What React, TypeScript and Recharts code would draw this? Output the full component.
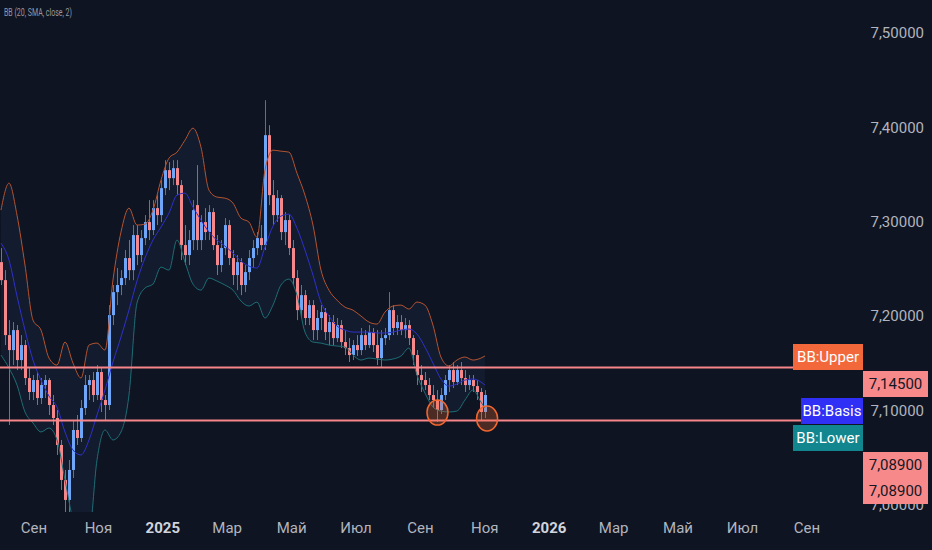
import { ComposedChart, Bar, Line, Area, XAxis, YAxis, ReferenceLine, ReferenceDot } from "recharts";

// USD/CNH-style daily-ish bars with Bollinger Bands (20, SMA, close, 2)
const BG = "#0f1422";
const UP = "#6fa6f7";
const DOWN = "#f5888a";
const LEVEL = "#f7858a";

// time axis is in months, 0 = Aug 2024
const monthTicks = [1, 3, 5, 7, 9, 11, 13, 15, 17, 19, 21, 23, 25];
const monthLabels = ["Сен", "Ноя", "2025", "Мар", "Май", "Июл", "Сен", "Ноя", "2026", "Мар", "Май", "Июл", "Сен"];
const priceTicks = [7.0, 7.1, 7.2, 7.3, 7.4, 7.5];

const FIRST_BAR = -0.025; // month of the first bar
const BAR_STEP = 0.1242; // months between bars

// [open, high, low, close]
const candles: [number, number, number, number][] = [
  [7.2569, 7.2718, 7.2326, 7.2378],
  [7.2378, 7.2484, 7.1689, 7.1795],
  [7.1795, 7.1954, 7.0841, 7.1636],
  [7.1636, 7.1933, 7.1477, 7.1848],
  [7.1848, 7.1901, 7.1424, 7.153],
  [7.153, 7.1795, 7.1424, 7.1689],
  [7.1689, 7.1742, 7.1265, 7.1339],
  [7.1339, 7.1445, 7.1106, 7.1191],
  [7.1191, 7.1371, 7.1106, 7.1318],
  [7.1318, 7.1403, 7.1053, 7.1127],
  [7.1127, 7.1339, 7.1064, 7.1265],
  [7.1265, 7.1371, 7.1127, 7.1318],
  [7.1318, 7.1339, 7.0947, 7.1053],
  [7.1053, 7.1159, 7.0841, 7.0915],
  [7.0915, 7.1, 7.0523, 7.0629],
  [7.0629, 7.0682, 7.0152, 7.0258],
  [7.0258, 7.0364, 6.9834, 7.0046],
  [7.0046, 7.047, 6.9834, 7.0364],
  [7.0364, 7.0894, 7.0279, 7.0788],
  [7.0788, 7.0947, 7.0629, 7.0703],
  [7.0703, 7.1106, 7.0661, 7.1021],
  [7.1021, 7.1371, 7.0947, 7.1265],
  [7.1265, 7.1371, 7.1106, 7.1318],
  [7.1318, 7.1403, 7.1085, 7.1159],
  [7.1159, 7.1477, 7.1106, 7.1403],
  [7.1403, 7.1445, 7.0979, 7.1106],
  [7.1106, 7.1159, 7.0894, 7.1053],
  [7.1053, 7.2113, 7.1, 7.2007],
  [7.2007, 7.2326, 7.1901, 7.2251],
  [7.2251, 7.2506, 7.2113, 7.2326],
  [7.2326, 7.2484, 7.2219, 7.24],
  [7.24, 7.2697, 7.2326, 7.2612],
  [7.2612, 7.2803, 7.2378, 7.2484],
  [7.2484, 7.2962, 7.2378, 7.2856],
  [7.2856, 7.2962, 7.2538, 7.2644],
  [7.2644, 7.2909, 7.2569, 7.2824],
  [7.2824, 7.3068, 7.275, 7.2994],
  [7.2994, 7.3227, 7.2803, 7.2909],
  [7.2909, 7.3227, 7.2856, 7.3142],
  [7.3142, 7.328, 7.2962, 7.3068],
  [7.3068, 7.3439, 7.2994, 7.3354],
  [7.3354, 7.3651, 7.328, 7.3545],
  [7.3545, 7.363, 7.3333, 7.346],
  [7.346, 7.3651, 7.3386, 7.3566],
  [7.3566, 7.3651, 7.328, 7.3386],
  [7.3386, 7.3439, 7.2591, 7.275],
  [7.275, 7.2962, 7.2538, 7.2644],
  [7.2644, 7.2909, 7.2538, 7.2803],
  [7.2803, 7.3227, 7.2697, 7.3121],
  [7.3174, 7.3598, 7.2697, 7.2803],
  [7.2803, 7.3068, 7.2697, 7.2994],
  [7.2994, 7.3142, 7.2803, 7.2888],
  [7.2888, 7.3174, 7.2803, 7.31],
  [7.31, 7.3142, 7.2697, 7.275],
  [7.275, 7.2856, 7.2432, 7.2538],
  [7.2538, 7.2803, 7.2463, 7.2718],
  [7.2718, 7.3036, 7.2644, 7.2962],
  [7.2962, 7.3015, 7.2538, 7.2612],
  [7.2612, 7.2697, 7.2326, 7.2432],
  [7.2432, 7.2644, 7.2272, 7.2569],
  [7.2569, 7.2612, 7.2219, 7.2326],
  [7.2326, 7.2538, 7.2251, 7.2463],
  [7.2463, 7.2697, 7.2378, 7.2612],
  [7.2612, 7.2803, 7.2506, 7.2718],
  [7.2718, 7.2888, 7.2644, 7.2824],
  [7.2824, 7.2962, 7.2697, 7.275],
  [7.275, 7.4287, 7.2697, 7.3916],
  [7.3916, 7.4022, 7.3174, 7.328],
  [7.328, 7.3439, 7.2962, 7.3068],
  [7.3068, 7.3333, 7.2994, 7.3248],
  [7.3248, 7.328, 7.2803, 7.2888],
  [7.2888, 7.31, 7.275, 7.3015],
  [7.3015, 7.3068, 7.2644, 7.2718],
  [7.2718, 7.2803, 7.2326, 7.24],
  [7.24, 7.2484, 7.1954, 7.206],
  [7.206, 7.2326, 7.1976, 7.2219],
  [7.2219, 7.2272, 7.1901, 7.1976],
  [7.1976, 7.2166, 7.1901, 7.2113],
  [7.2113, 7.2166, 7.1742, 7.1848],
  [7.1848, 7.206, 7.1742, 7.1976],
  [7.1976, 7.2113, 7.1848, 7.2039],
  [7.2039, 7.2082, 7.1742, 7.1827],
  [7.1827, 7.2007, 7.1689, 7.1933],
  [7.1933, 7.2007, 7.1689, 7.1763],
  [7.1763, 7.1976, 7.1721, 7.1901],
  [7.1901, 7.1954, 7.1657, 7.1721],
  [7.1721, 7.1848, 7.1583, 7.1657],
  [7.1657, 7.1763, 7.1509, 7.1583],
  [7.1583, 7.1742, 7.153, 7.1689],
  [7.1689, 7.1795, 7.1573, 7.1636],
  [7.1636, 7.187, 7.1583, 7.1795],
  [7.1795, 7.1848, 7.1636, 7.1689],
  [7.1689, 7.1901, 7.1657, 7.1827],
  [7.1827, 7.187, 7.1615, 7.1689],
  [7.1689, 7.1848, 7.1477, 7.1551],
  [7.1551, 7.1848, 7.1445, 7.1763],
  [7.1763, 7.187, 7.1689, 7.1795],
  [7.1795, 7.2251, 7.1742, 7.206],
  [7.206, 7.2113, 7.1795, 7.187],
  [7.187, 7.2007, 7.1795, 7.1933],
  [7.1933, 7.2007, 7.1795, 7.1848],
  [7.1848, 7.1976, 7.1763, 7.1901],
  [7.1901, 7.1954, 7.1689, 7.1763],
  [7.1763, 7.1795, 7.1477, 7.1583],
  [7.1583, 7.1636, 7.1265, 7.1371],
  [7.1371, 7.1477, 7.1191, 7.1318],
  [7.1318, 7.1403, 7.1212, 7.1265],
  [7.1265, 7.1339, 7.1106, 7.1159],
  [7.1159, 7.1265, 7.1021, 7.1106],
  [7.1106, 7.1212, 7.0873, 7.1],
  [7.1, 7.1233, 7.0958, 7.1159],
  [7.1159, 7.1371, 7.1106, 7.1318],
  [7.1318, 7.1477, 7.1191, 7.1424],
  [7.1424, 7.1509, 7.1233, 7.1297],
  [7.1297, 7.1477, 7.1265, 7.1424],
  [7.1424, 7.1509, 7.1265, 7.1339],
  [7.1339, 7.1424, 7.1191, 7.1265],
  [7.1265, 7.1371, 7.1212, 7.1318],
  [7.1318, 7.1371, 7.1191, 7.1254],
  [7.1254, 7.1318, 7.1106, 7.1191],
  [7.1191, 7.1233, 7.0894, 7.0979],
  [7.0979, 7.1212, 7.0915, 7.1159],
];

// band values sampled on every second bar (last one on the final bar)
const bbUpper = [
  7.3121, 7.3407, 7.3068, 7.2538, 7.1954, 7.1848, 7.1551, 7.1477, 7.1721, 7.1498,
  7.1339, 7.1689, 7.171, 7.1636, 7.2379, 7.2888, 7.3142, 7.2962, 7.2972, 7.3121,
  7.3439, 7.3672, 7.3736, 7.3863, 7.399, 7.3789, 7.3333, 7.3259, 7.3248, 7.3195,
  7.3036, 7.2994, 7.2834, 7.3545, 7.3757, 7.3746, 7.3736, 7.3513, 7.328, 7.2962,
  7.2485, 7.2272, 7.2166, 7.2092, 7.206, 7.1997, 7.1933, 7.1912, 7.2039, 7.2103,
  7.2113, 7.2071, 7.2145, 7.2113, 7.1901, 7.1562, 7.1467, 7.153, 7.1562, 7.153,
  7.1551, 7.1573,
];
const bbBasis = [
  7.2771, 7.2591, 7.2209, 7.1848, 7.153, 7.1318, 7.1148, 7.1032, 7.0767, 7.0576,
  7.0523, 7.0682, 7.0947, 7.1212, 7.1509, 7.1774, 7.206, 7.2368, 7.2612, 7.2803,
  7.2941, 7.3089, 7.328, 7.3301, 7.3153, 7.3015, 7.2888, 7.2803, 7.2739, 7.2665,
  7.258, 7.2527, 7.2506, 7.2728, 7.2951, 7.3057, 7.3078, 7.293, 7.2697, 7.2432,
  7.2145, 7.1997, 7.1891, 7.1848, 7.1827, 7.1827, 7.1827, 7.1817, 7.1817, 7.1827,
  7.1848, 7.1859, 7.1806, 7.1668, 7.1498, 7.1329, 7.1254, 7.1276, 7.1318, 7.1329,
  7.1297, 7.1265,
];
const bbLower = [
  7.1583, 7.1445, 7.1265, 7.0979, 7.0862, 7.0767, 7.0809, 7.0682, 7.0258, 6.9834,
  6.9621, 6.9674, 7.047, 7.0788, 7.0682, 7.0767, 7.1159, 7.2135, 7.2294, 7.2336,
  7.2516, 7.2484, 7.2803, 7.2569, 7.2336, 7.2272, 7.24, 7.2368, 7.2326, 7.2272,
  7.2156, 7.2103, 7.2145, 7.1976, 7.2113, 7.2326, 7.2389, 7.2219, 7.1827, 7.1721,
  7.171, 7.1689, 7.1679, 7.1668, 7.1583, 7.153, 7.1551, 7.1541, 7.153, 7.1541,
  7.1573, 7.1657, 7.1371, 7.118, 7.1032, 7.0989, 7.0979, 7.0989, 7.1106, 7.1212,
  7.1085, 7.1021,
];

const levels = [7.145, 7.089];
const touches = [
  { t: 13.53, price: 7.0973 },
  { t: 15.07, price: 7.091 },
];

const barRows = candles.map(([o, h, l, c], i) => ({
  t: FIRST_BAR + i * BAR_STEP,
  range: [l, h],
  o,
  h,
  l,
  c,
}));

const bandRows = bbUpper.map((u, k) => {
  const bar = Math.min(k * 2, candles.length - 1);
  return {
    t: FIRST_BAR + bar * BAR_STEP,
    upper: u,
    basis: bbBasis[k],
    lower: bbLower[k],
    band: [bbLower[k], u],
  };
});

const fmt = (v: number) => v.toFixed(5).replace(".", ",");

function Candle(props: any) {
  const { x, y, width, height, payload } = props;
  if (!payload || payload.h === payload.l) return null;
  const top = Math.min(y, y + height);
  const span = Math.abs(height);
  const k = span / (payload.h - payload.l);
  const cx = Math.round(x + width / 2) + 0.5;
  const bodyTop = top + (payload.h - Math.max(payload.o, payload.c)) * k;
  const bodyBot = top + (payload.h - Math.min(payload.o, payload.c)) * k;
  const col = payload.c >= payload.o ? UP : DOWN;
  return (
    <g>
      <line x1={cx} x2={cx} y1={top} y2={top + span} stroke={col} strokeOpacity={0.65} strokeWidth={1} />
      <rect x={cx - 1.5} y={bodyTop} width={3} height={Math.max(1, bodyBot - bodyTop)} fill={col} />
    </g>
  );
}

function TimeTick({ x, payload }: any) {
  const label = monthLabels[monthTicks.indexOf(payload.value)];
  const year = /^\d+$/.test(label);
  return (
    <text
      x={x}
      y={533}
      textAnchor="middle"
      fill={year ? "#d1d4dc" : "#b2b5be"}
      fontWeight={year ? 700 : 400}
      fontSize={15}
      fontFamily="Roboto"
    >
      {label}
    </text>
  );
}

function PriceTick({ y, payload }: any) {
  return (
    <text x={924} y={y} dy={5.5} textAnchor="end" fill="#b2b5be" fontSize={15} fontFamily="Roboto">
      {fmt(payload.value)}
    </text>
  );
}

function Touch({ cx, cy }: any) {
  return <ellipse cx={cx} cy={cy} rx={10.5} ry={12.5} fill="#f2672e" fillOpacity={0.28} stroke="#f2672e" strokeWidth={1.5} />;
}

function Tag({ left, top, width, bg, color, children }: any) {
  return (
    <div
      style={{
        position: "absolute",
        left,
        top,
        width,
        height: 26,
        lineHeight: "26px",
        background: bg,
        color,
        fontSize: 15,
        fontFamily: "Roboto",
        textAlign: "center",
      }}
    >
      {children}
    </div>
  );
}

export default function App() {
  return (
    <div
      style={{
        position: "fixed",
        left: 0,
        top: 0,
        width: 932,
        height: 550,
        background: BG,
        overflow: "hidden",
      }}
    >
      <ComposedChart width={932} height={550} data={barRows} margin={{ top: 0, right: 0, bottom: 0, left: 0 }}>
        <XAxis
          type="number"
          dataKey="t"
          domain={[-0.0559, 26.65]}
          ticks={monthTicks}
          tick={<TimeTick />}
          axisLine={false}
          tickLine={false}
          height={38}
          allowDataOverflow
        />
        <YAxis
          orientation="right"
          domain={[6.9918, 7.535]}
          ticks={priceTicks}
          tick={<PriceTick />}
          axisLine={false}
          tickLine={false}
          width={72}
          allowDataOverflow
        />
        <Area
          data={bandRows}
          dataKey="band"
          type="monotone"
          fill="#131c2f"
          fillOpacity={1}
          stroke="none"
          dot={false}
          activeDot={false}
          isAnimationActive={false}
        />
        <Line data={bandRows} dataKey="upper" type="monotone" stroke="#b4532f" strokeWidth={1} dot={false} activeDot={false} isAnimationActive={false} />
        <Line data={bandRows} dataKey="basis" type="monotone" stroke="#2f30c9" strokeWidth={1} dot={false} activeDot={false} isAnimationActive={false} />
        <Line data={bandRows} dataKey="lower" type="monotone" stroke="#1d6d74" strokeWidth={1} dot={false} activeDot={false} isAnimationActive={false} />
        <Bar dataKey="range" barSize={4} shape={<Candle />} isAnimationActive={false} />
        {levels.map((v) => (
          <ReferenceLine key={v} y={v} stroke={LEVEL} strokeWidth={2} />
        ))}
        {touches.map((p) => (
          <ReferenceDot key={p.t} x={p.t} y={p.price} r={11} shape={<Touch />} />
        ))}
      </ComposedChart>

      <svg width={200} height={22} style={{ position: "absolute", left: 0, top: 2 }}>
        <text x={4} y={14} fontSize={10} fill="#9598a1" fontFamily="Roboto" textLength={68} lengthAdjust="spacingAndGlyphs">
          BB (20, SMA, close, 2)
        </text>
      </svg>

      <Tag left={793} top={344} width={70} bg="#f2683b" color="#ffffff">BB:Upper</Tag>
      <Tag left={863} top={371} width={65} bg="#f7898b" color="#131722">{fmt(levels[0])}</Tag>
      <Tag left={801} top={398} width={62} bg="#2f2ff5" color="#ffffff">BB:Basis</Tag>
      <Tag left={793} top={425} width={70} bg="#12868f" color="#ffffff">BB:Lower</Tag>
      <Tag left={863} top={452} width={65} bg="#f7898b" color="#131722">{fmt(levels[1])}</Tag>
      <Tag left={863} top={478} width={65} bg="#f7898b" color="#131722">{fmt(levels[1])}</Tag>
    </div>
  );
}
